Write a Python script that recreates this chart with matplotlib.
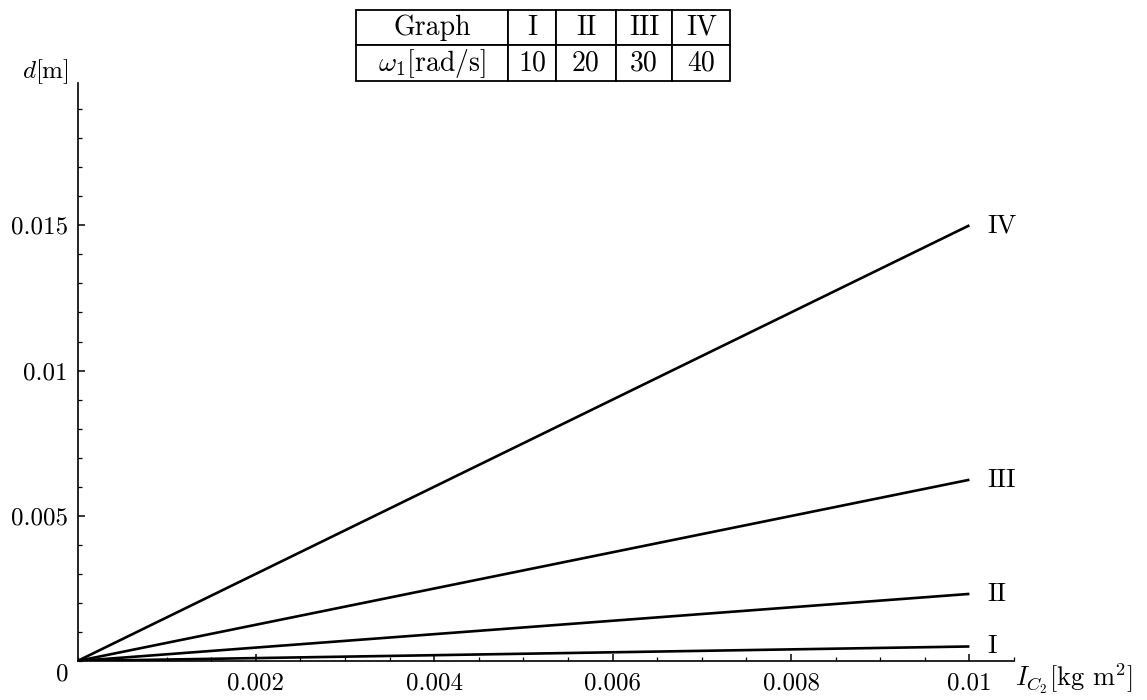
import numpy as np
import matplotlib
matplotlib.use("Agg")
import matplotlib.pyplot as plt
from matplotlib.ticker import MultipleLocator, FixedLocator, FixedFormatter

plt.rcParams['font.family'] = 'serif'
plt.rcParams['font.serif'] = ['cmr10']
plt.rcParams['mathtext.fontset'] = 'cm'
plt.rcParams['axes.unicode_minus'] = False

# curves d(I_C2) for the four angular speeds
graph_names = ['I', 'II', 'III', 'IV']
omega1 = [10, 20, 30, 40]
I_c2 = [0.0, 0.01]
d_I = [0.0, 0.0005]
d_II = [0.0, 0.00231]
d_III = [0.0, 0.00624]
d_IV = [0.0, 0.015]

x_ticks = [0.002, 0.004, 0.006, 0.008, 0.01]
x_ticklabels = ['0.002', '0.004', '0.006', '0.008', '0.01']
y_ticks = [0.005, 0.01, 0.015]
y_ticklabels = ['0.005', '0.01', '0.015']

FS = 18
W, H = 1147, 700
fig = plt.figure(figsize=(W / 100, H / 100), dpi=100)

x0, y0 = 77.5, 661
x1, y1 = 1014, 83
ax = fig.add_axes([x0 / W, (H - y0) / H, (x1 - x0) / W, (y0 - y1) / H])
ax.set_xlim(0, 0.0105)
ax.set_ylim(0, 0.0199)

for name, d in zip(graph_names, [d_I, d_II, d_III, d_IV]):
    ax.plot(I_c2, d, color='black', lw=1.9, solid_capstyle='butt')
    ax.text(I_c2[-1] + 0.0002, d[-1], name, fontsize=FS + 1,
            ha='left', va='center')

for s in ['top', 'right']:
    ax.spines[s].set_visible(False)
for s in ['left', 'bottom']:
    ax.spines[s].set_linewidth(1.2)

ax.xaxis.set_major_locator(FixedLocator(x_ticks))
ax.xaxis.set_major_formatter(FixedFormatter(x_ticklabels))
ax.yaxis.set_major_locator(FixedLocator(y_ticks))
ax.yaxis.set_major_formatter(FixedFormatter(y_ticklabels))
ax.xaxis.set_minor_locator(MultipleLocator(0.0005))
ax.yaxis.set_minor_locator(MultipleLocator(0.001))
ax.tick_params(which='major', direction='in', length=5, width=1.1,
               labelsize=FS)
ax.tick_params(axis='y', which='major', pad=7)
ax.tick_params(axis='x', which='major', pad=8)
ax.tick_params(which='minor', direction='in', length=3, width=0.9)

# shared origin label and axis names
ax.text(-0.00017, -0.00045, '0', fontsize=FS, ha='center', va='center')
fig.text(22 / W, 1 - 72 / H, r'$d$[m]', fontsize=FS, ha='left', va='center')
fig.text(1015 / W, 1 - 679 / H, r'$I_{C_2}$[kg m$^2$]', fontsize=FS + 1,
         ha='left', va='center')

# legend table with the angular speeds
tx0, tx1, ty0, ty1 = 356, 730, 10, 81
tab_ax = fig.add_axes([tx0 / W, 1 - ty1 / H, (tx1 - tx0) / W, (ty1 - ty0) / H])
tab_ax.axis('off')
col_w = np.array([140, 44, 55, 52, 53], dtype=float)
cells = [['Graph'] + graph_names,
         [r'$\omega_1$[rad/s]'] + [str(w) for w in omega1]]
tab = tab_ax.table(cellText=cells, colWidths=list(col_w / col_w.sum()),
                   cellLoc='center', bbox=[0, 0, 1, 1])
tab.auto_set_font_size(False)
tab.set_fontsize(FS + 2)
for cell in tab.get_celld().values():
    cell.set_linewidth(1.3)
    cell.set_edgecolor('black')

fig.savefig('out.png', dpi=100)
